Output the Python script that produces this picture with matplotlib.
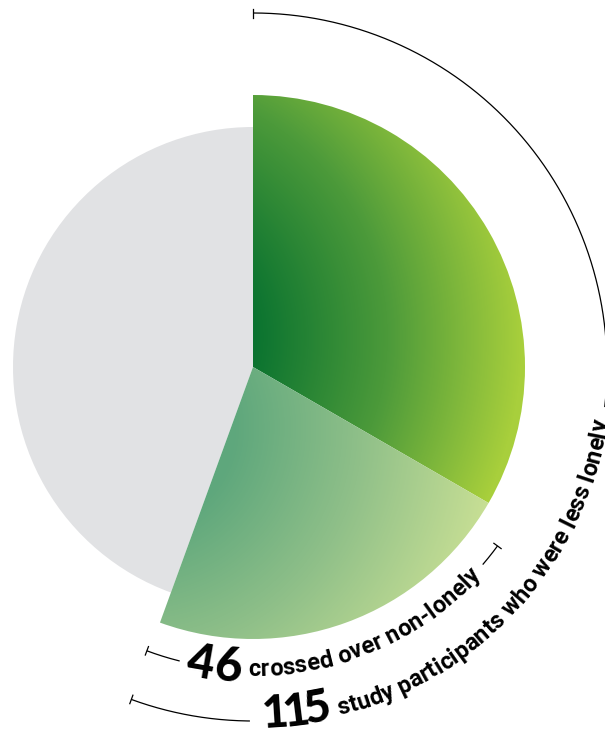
import numpy as np
import matplotlib
matplotlib.use("Agg")
import matplotlib.pyplot as plt
from matplotlib.patches import Wedge
from matplotlib.colors import LinearSegmentedColormap
from matplotlib.font_manager import FontProperties

# data
segments = ["less lonely, not crossed over", "crossed over non-lonely", "rest"]
counts = [69, 46, 92]
less_lonely = counts[0] + counts[1]
label_inner = "crossed over non-lonely"
label_outer = "study participants who were less lonely"

W, H = 605, 732
CX, CY = 253, 367          # pie centre in pixels

fig = plt.figure(figsize=(W / 100, H / 100), dpi=100)
ax = fig.add_axes([0, 0, 1, 1])
xlim = (-CX, W - CX)
ylim = (-(H - CY), CY)
ax.set_xlim(*xlim)
ax.set_ylim(*ylim)
ax.axis("off")

# angles from counts, clockwise from 12 o'clock
fracs = np.array(counts) / sum(counts)
edges = 90 - 360 * np.concatenate([[0], np.cumsum(fracs)])

xs = np.linspace(*xlim, W)
ys = np.linspace(*ylim, H)
X, Y = np.meshgrid(xs, ys)


def gradient_wedge(r, t1, t2, colors, focus, d0, d1, z):
    # radial gradient around a focus point, clipped to the wedge
    w = Wedge((0, 0), r, t1, t2, fc="none", ec="none")
    ax.add_patch(w)
    d = np.hypot(X - focus[0], Y - focus[1])
    t = (d - d0) / (d1 - d0)
    cmap = LinearSegmentedColormap.from_list("g", colors)
    img = cmap(np.clip(t, 0, 1))
    im = ax.imshow(img, extent=(*xlim, *ylim), origin="lower", aspect="auto",
                   zorder=z, interpolation="bilinear")
    im.set_clip_path(w)


# grey rest
ax.add_patch(Wedge((0, 0), 240, edges[3], edges[2], fc="#e1e2e4", ec="none", zorder=1))
# first green slice
gradient_wedge(272, edges[1], edges[0], ["#0a7330", "#4c9a3a", "#a8cf3c"],
               (-120, 30), 120, 390, 2)
# second green slice
gradient_wedge(272, edges[2], edges[1], ["#5ea77c", "#90c089", "#c6de94"],
               (-120, -60), 100, 360, 3)

renderer = fig.canvas.get_renderer()
FAM = ["Roboto", "DejaVu Sans"]
NUM_FAM = ["Lato", "Roboto", "DejaVu Sans"]


def arc(r, a1, a2, tick_at=()):
    th = np.radians(np.linspace(a1, a2, 200))
    ax.plot(r * np.cos(th), r * np.sin(th), color="black", lw=0.9, zorder=5,
            solid_capstyle="butt")
    for a in tick_at:
        t = np.radians(a)
        ax.plot([(r - 4.5) * np.cos(t), (r + 4.5) * np.cos(t)],
                [(r - 4.5) * np.sin(t), (r + 4.5) * np.sin(t)],
                color="black", lw=0.9, zorder=5)


def arc_text(s, r_base, a_start, size, weight, inner=0.0, family=FAM, track=0.0):
    prop = FontProperties(family=family, size=size, weight=weight)
    r_mid = r_base - inner
    right = 0
    for i, ch in enumerate(s):
        right = renderer.get_text_width_height_descent(s[:i + 1], prop, ismath=False)[0] + track * i
        if ch == " ":
            continue
        cw = renderer.get_text_width_height_descent(ch, prop, ismath=False)[0]
        mid = right - cw / 2
        th = np.radians(a_start) + mid / r_mid
        ax.text(r_base * np.cos(th), r_base * np.sin(th), ch, fontproperties=prop,
                rotation=np.degrees(th) + 90, rotation_mode="anchor",
                ha="center", va="baseline", color="black", zorder=6)
    return a_start + np.degrees(right / r_mid)


GAP = 7  # px between number and words

# inner bracket: crossed over
R_IN = 303
arc(R_IN, -110.5, -104, tick_at=[-110.5])
end = arc_text(str(counts[1]), R_IN + 12, -102.5, 34, "black", inner=12, family=NUM_FAM)
arc_text(label_inner, R_IN + 6, end + np.degrees(GAP / R_IN), 17, "bold", inner=6)
arc(R_IN, -40.7, -36.2, tick_at=[-36.2])

# outer bracket: less lonely
R_OUT = 354
arc(R_OUT, -110.1, -90.5, tick_at=[-110.1])
end = arc_text(str(less_lonely), R_OUT + 7, -88.5, 33, "black", inner=7,
               family=NUM_FAM, track=-5)
arc_text(label_outer, R_OUT + 5, end + np.degrees(GAP / R_OUT), 17, "bold", inner=5)
arc(R_OUT, -6.5, 90, tick_at=[90])

fig.savefig("out.png", dpi=100)
